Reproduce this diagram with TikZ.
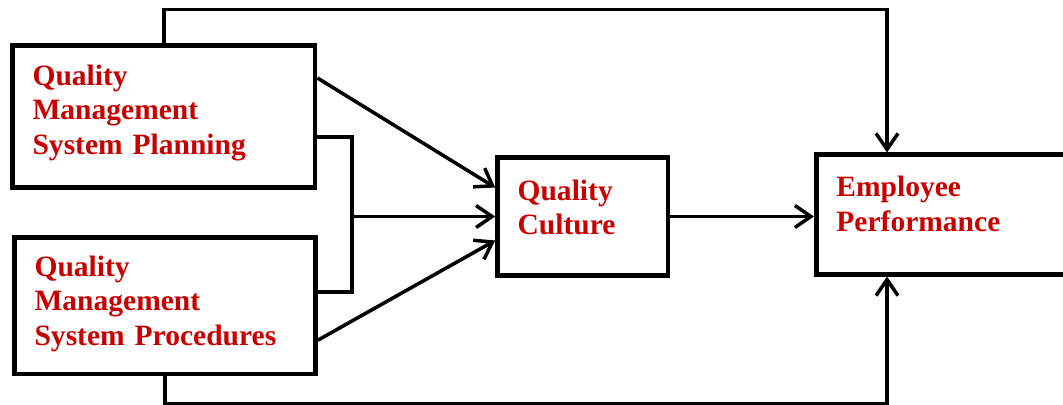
\documentclass[tikz,border=0pt]{standalone}
\usepackage{xcolor}
\usepackage{fontspec}
\setmainfont{Liberation Serif}
\usepackage{tikz}
\usetikzlibrary{arrows.meta,positioning,calc}
\definecolor{labelred}{HTML}{C80000}
\tikzset{
  factorbox/.style={
    rectangle, draw=black, line width=3.4pt, fill=white,
    align=left, inner xsep=0.5cm, inner ysep=0.1cm,
    font=\fontsize{21}{24.5}\selectfont\bfseries, text=labelred
  },
  linkline/.style={line width=2.5pt, color=black},
  linkarrow/.style={linkline, -{Straight Barb[length=4mm,width=5.5mm]}},
}

\begin{document}
\begin{tikzpicture}[x=0.025cm, y=-0.025cm]
  \useasboundingbox (0,0) rectangle (1063,405);

  \node[factorbox, text width=6.56cm, minimum height=3.55cm, text depth=2.08cm] (plan) at (163.8,116.5) {Quality\\Management\\System Planning};
  \node[factorbox, text width=6.52cm, minimum height=3.41cm, text depth=1.99cm] (proc) at (165,305.7) {Quality\\Management\\System Procedures};
  \node[factorbox, text width=3.26cm, minimum height=2.95cm, text depth=1.33cm] (culture) at (582.8,216.5) {Quality\\Culture};
  \node[factorbox, text width=5.7cm, minimum height=2.98cm, text depth=1.39cm, anchor=west] (perf) at (814,214.5) {Employee\\Performance};

  \coordinate (toprun) at (887,9.5);
  \coordinate (botrun) at (887,404);
  \coordinate (brtop) at (352,137);
  \coordinate (brbot) at (352,292);

  % direct links into the culture box
  \draw[linkarrow] ($(plan.east)+(0,-38.5)$) -- ($(culture.west)+(0,-29)$);
  \draw[linkarrow] ($(proc.east)+(0,34.5)$) -- ($(culture.west)+(0,24)$);

  % joint link
  \draw[linkline] (brtop -| plan.east) -- (brtop) -- (brbot) -- (brbot -| proc.east);
  \draw[linkarrow] (brtop |- culture.west) -- (culture.west);

  \draw[linkarrow] (culture.east) -- (culture.east -| perf.west);

  % outer links to performance
  \draw[linkarrow] (plan.north) |- (toprun) -- (toprun |- perf.north);
  \draw[linkarrow] (proc.south) |- (botrun) -- (botrun |- perf.south);
\end{tikzpicture}
\end{document}
